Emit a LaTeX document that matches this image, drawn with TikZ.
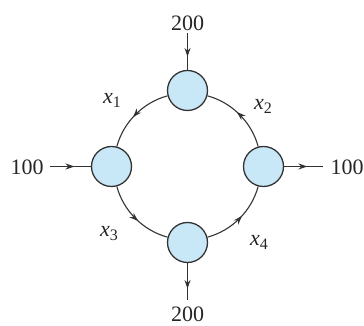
\documentclass[tikz,border=0pt]{standalone}
\usepackage{fontspec}
\setmainfont{Liberation Serif}
\usetikzlibrary{arrows.meta,decorations.markings,calc}
\begin{document}
\begin{tikzpicture}[x=1pt,y=1pt,
  junction/.style={circle,draw=black!80,line width=1.3pt,fill=nodefill,minimum size=40pt,inner sep=0pt},
  flow/.style={draw=black!80,line width=1.1pt,postaction={decorate},
    decoration={markings,mark=at position #1 with {\arrow{Stealth[length=9pt,width=6pt]}}}},
  flow/.default=0.55,
  lbl/.style={font=\fontsize{22}{26}\selectfont,text=black!85,inner sep=0pt},
  var/.style={font=\fontsize{22}{26}\selectfont,text=black!85,inner sep=0pt}]
\definecolor{nodefill}{RGB}{200,232,248}
\useasboundingbox (0,0) rectangle (364,326);
\coordinate (C) at (187.5,159.5);
\node[junction] (T) at ($(C)+(90:76)$) {};
\node[junction] (L) at ($(C)+(180:76)$) {};
\node[junction] (R) at ($(C)+(0:76)$) {};
\node[junction] (B) at ($(C)+(270:76)$) {};
% ring flows
\draw[flow] (T) to[out=195,in=75,looseness=0.9] (L);
\draw[flow] (R) to[out=105,in=345,looseness=0.9] (T);
\draw[flow] (L) to[out=285,in=165,looseness=0.9] (B);
\draw[flow] (B) to[out=15,in=255,looseness=0.9] (R);
% external flows
\coordinate (tin) at (187.5,293);
\coordinate (lin) at (50,159.5);
\coordinate (rout) at (323,159.5);
\coordinate (bout) at (187.5,26);
\draw[flow=0.65] (tin) -- (T.north);
\draw[flow=0.6] (lin) -- (L.west);
\draw[flow=0.6] (R.east) -- (rout);
\draw[flow=0.7] (B.south) -- (bout);
% labels
\node[lbl] (t200) at (187.5,303) {200};
\node[lbl] (l100) at (27,159) {100};
\node[lbl] (r100) at (347,159) {100};
\node[lbl] (b200) at (187.5,12) {200};
\node[var] (x1) at (112,226) {\textit{x}\raisebox{-4pt}{\fontsize{16}{18}\selectfont 1}};
\node[var] (x2) at (263,220) {\textit{x}\raisebox{-4pt}{\fontsize{16}{18}\selectfont 2}};
\node[var] (x3) at (109,92) {\textit{x}\raisebox{-4pt}{\fontsize{16}{18}\selectfont 3}};
\node[var] (x4) at (259,84) {\textit{x}\raisebox{-4pt}{\fontsize{16}{18}\selectfont 4}};
\end{tikzpicture}
\end{document}
